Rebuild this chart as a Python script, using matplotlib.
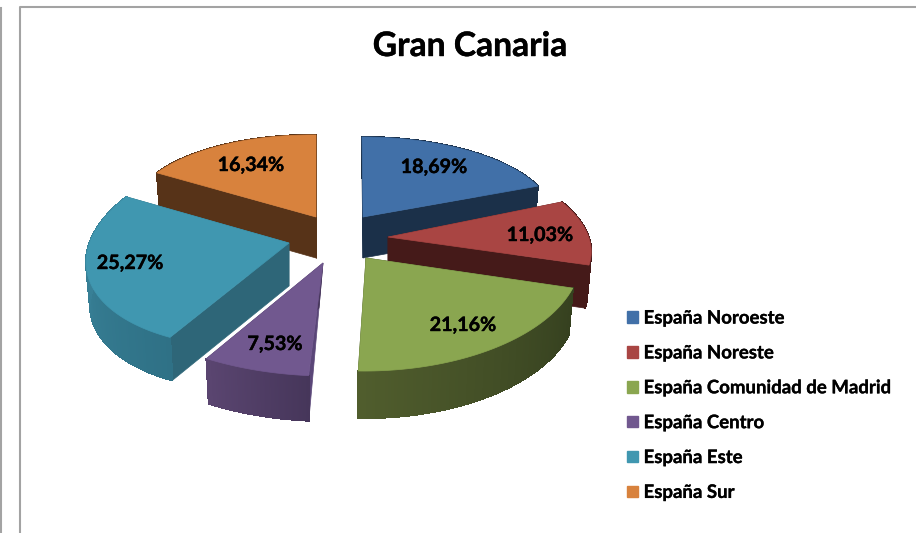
import numpy as np
import matplotlib
matplotlib.use('Agg')
import matplotlib.pyplot as plt
import matplotlib.patheffects as pe
from matplotlib.collections import PolyCollection
from matplotlib.colors import to_rgb
from matplotlib.patches import Patch, Polygon

plt.rcParams['font.family'] = ['Lato', 'DejaVu Sans']

title = 'Gran Canaria'
regions = ['España Noroeste', 'España Noreste', 'España Comunidad de Madrid',
           'España Centro', 'España Este', 'España Sur']
shares = [18.69, 11.03, 21.16, 7.53, 25.27, 16.34]
share_labels = ['18,69%', '11,03%', '21,16%', '7,53%', '25,27%', '16,34%']

#colours: top surface, flat cut faces (start/end of slice), outer rim gradient
top_colors = ['#4170A8', '#A94543', '#8AA650', '#71588F', '#4097B0', '#D8823D']
face_a = ['#1B3049', '#451A19', '#39431F', '#5A4678', '#2E6678', '#573318']
face_b = ['#1B3049', '#451A19', '#39431F', '#46365A', '#2E6678', '#573318']
rim_a = ['#1B3049', '#451A19', '#35401F', '#46365A', '#2F7186', '#573318']
rim_b = ['#1B3049', '#451A19', '#505D2D', '#5A4570', '#3C879E', '#573318']

#fake 3D projection per slice, in picture pixels
apex = [(363, 217), (388, 237), (366, 258), (323, 263), (289, 243), (316, 217)]
apex_lean = [0, 0, 0, -4, 0, 0]
sin_axis = [(190, 0), (201, 1), (215, -3), (228, 4), (202, -9), (186, 2)]
cos_axis = [(-1, -80), (-30, -93), (-4, -113), (2, -113), (20, -104), (0, -82)]
depth = [41, 43, 47, 45, 43, 41]
label_pos = [(434, 167), (540, 235), (463, 325), (275, 344), (130, 263), (251, 165)]
draw_order = [5, 0, 1, 4, 2, 3]

heavy = [pe.withStroke(linewidth=0.3, foreground='black')]


def slice_edge(i, t):
    ax0, ay0 = apex[i]
    x = ax0 + sin_axis[i][0] * np.sin(t) + cos_axis[i][0] * np.cos(t)
    y = ay0 + sin_axis[i][1] * np.sin(t) + cos_axis[i][1] * np.cos(t)
    return x, y


def lower(i, x, y):
    #bottom of the slice, a bit narrower than the top
    return apex[i][0] + 0.98 * (x - apex[i][0]), y + depth[i]


def draw_slice(ax, i, t0, t1):
    t = np.linspace(t0, t1, 90)
    x, y = slice_edge(i, t)
    lx, ly = lower(i, x, y)
    px, py = apex[i]
    pbx, pby = lower(i, px, py)
    pbx = pbx + apex_lean[i]

    #flat cut faces
    ax.add_patch(Polygon([(px, py), (x[0], y[0]), (lx[0], ly[0]), (pbx, pby)],
                         facecolor=face_a[i], edgecolor=face_a[i], lw=0.5))
    ax.add_patch(Polygon([(px, py), (x[-1], y[-1]), (lx[-1], ly[-1]), (pbx, pby)],
                         facecolor=face_b[i], edgecolor=face_b[i], lw=0.5))

    #outer rim, gradient along the arc
    quads = []
    cols = []
    ca = np.array(to_rgb(rim_a[i]))
    cb = np.array(to_rgb(rim_b[i]))
    for k in range(len(t) - 1):
        quads.append([(x[k], y[k]), (x[k + 1], y[k + 1]), (lx[k + 1], ly[k + 1]), (lx[k], ly[k])])
        f = k / (len(t) - 2)
        cols.append(ca + (cb - ca) * f)
    ax.add_collection(PolyCollection(quads, facecolors=cols, edgecolors=cols, linewidths=0.8,
                                     antialiaseds=False))

    #top surface
    top = [(px, py)] + list(zip(x, y))
    ax.add_patch(Polygon(top, facecolor=top_colors[i], edgecolor=top_colors[i], lw=0.5))


fig = plt.figure(figsize=(9.16, 5.33), dpi=100)
ax = fig.add_axes([0, 0, 1, 1])
ax.set_xlim(0, 916)
ax.set_ylim(533, 0)
ax.axis('off')

#chart frame
ax.plot([20, 20, 916], [533, 7, 7], color='#A3A3A3', lw=1.5)
ax.plot([0.5, 0.5], [8, 533], color='#A3A3A3', lw=1.5)

ax.text(470, 46, title, ha='center', va='center', fontsize=24.2, fontweight='bold', color='black',
        path_effects=heavy)

#slice angles come from the shares
edges = np.radians(np.cumsum([0] + shares) / sum(shares) * 360)
for i in draw_order:
    draw_slice(ax, i, edges[i], edges[i + 1])

for i in range(len(shares)):
    ax.text(label_pos[i][0], label_pos[i][1], share_labels[i], ha='center', va='center',
            fontsize=14.2, fontweight='bold', color='black', zorder=5, path_effects=heavy)

handles = [Patch(facecolor=c, edgecolor=c, label=r) for c, r in zip(top_colors, regions)]
leg = ax.legend(handles=handles, loc='upper left', bbox_to_anchor=(621 / 916, 1 - 304 / 533), frameon=False,
                prop={'size': 13.4, 'weight': 'bold'}, labelspacing=0.96, handlelength=0.59,
                handleheight=0.59, handletextpad=0.32, borderpad=0.3, borderaxespad=0)
for txt in leg.get_texts():
    txt.set_path_effects([pe.withStroke(linewidth=0.2, foreground='black')])

fig.savefig('out.png', dpi=100)
